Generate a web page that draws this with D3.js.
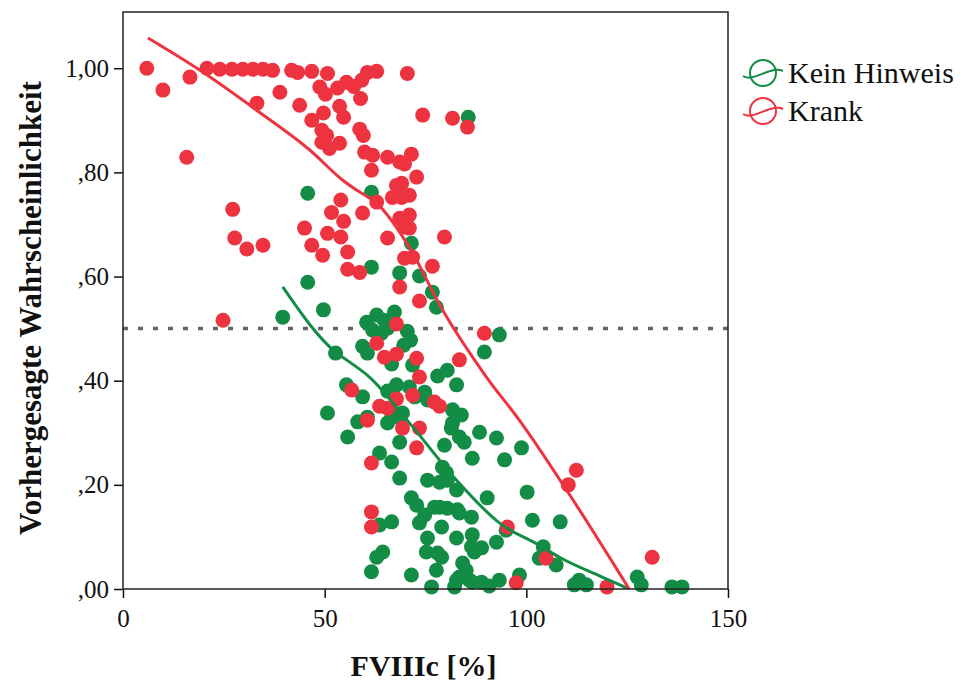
<!DOCTYPE html>
<html>
<head>
<meta charset="utf-8">
<script src="https://cdn.jsdelivr.net/npm/d3@7"></script>
<style>
  body { margin: 0; background: #fff; }
  svg { display: block; }
  text { font-family: "Liberation Serif", "Times New Roman", serif; fill: #111; }
</style>
</head>
<body>
<svg id="chart" width="963" height="690"></svg>
<script>
// FVIIIc [%] vs. predicted probability, per group
const kein = [
  [85.6, 0.906], [45.8, 0.760], [61.6, 0.762], [71.5, 0.664], [61.6, 0.618], [68.6, 0.607],
  [73.5, 0.601], [76.7, 0.570], [77.7, 0.541], [39.6, 0.522], [45.8, 0.589], [49.7, 0.536],
  [60.4, 0.512], [62.9, 0.526], [64.8, 0.516], [67.3, 0.532], [61.9, 0.497], [64.1, 0.491],
  [65.6, 0.501], [70.5, 0.495], [71.3, 0.478], [69.6, 0.468], [59.4, 0.466], [60.6, 0.453],
  [66.6, 0.432], [71.8, 0.430], [52.7, 0.453], [78.0, 0.409], [80.4, 0.420], [89.6, 0.455],
  [93.3, 0.488], [55.4, 0.392], [59.4, 0.369], [50.7, 0.338], [65.6, 0.380], [67.8, 0.392],
  [71.0, 0.388], [72.3, 0.369], [74.8, 0.378], [75.5, 0.363], [82.7, 0.392], [81.7, 0.344],
  [83.9, 0.334], [69.3, 0.338], [68.6, 0.328], [66.6, 0.338], [60.6, 0.330], [58.2, 0.321],
  [65.6, 0.319], [81.7, 0.319], [81.4, 0.309], [83.4, 0.292], [84.6, 0.282], [88.4, 0.301],
  [92.6, 0.290], [98.8, 0.271], [55.7, 0.292], [68.6, 0.282], [79.7, 0.276], [63.6, 0.261],
  [66.6, 0.244], [86.6, 0.251], [94.6, 0.248], [79.2, 0.234], [80.2, 0.223], [75.5, 0.209],
  [78.5, 0.205], [80.4, 0.209], [68.6, 0.213], [82.7, 0.190], [90.3, 0.175], [100.2, 0.186],
  [71.5, 0.175], [72.8, 0.161], [74.8, 0.142], [77.2, 0.157], [78.5, 0.157], [80.4, 0.155],
  [82.9, 0.152], [83.4, 0.146], [86.4, 0.138], [73.5, 0.127], [79.0, 0.119], [63.6, 0.123],
  [66.6, 0.129], [75.5, 0.098], [75.2, 0.071], [78.0, 0.069], [79.0, 0.061], [82.7, 0.098],
  [86.6, 0.104], [86.4, 0.081], [88.9, 0.079], [87.1, 0.071], [92.6, 0.090], [95.0, 0.113],
  [101.5, 0.132], [108.4, 0.129], [104.2, 0.081], [103.2, 0.059], [107.4, 0.046], [64.4, 0.071],
  [62.9, 0.061], [61.6, 0.033], [71.5, 0.027], [77.7, 0.036], [84.2, 0.050], [85.1, 0.036],
  [83.4, 0.023], [82.7, 0.017], [85.9, 0.017], [86.6, 0.013], [88.9, 0.013], [76.5, 0.004],
  [93.3, 0.017], [98.3, 0.027], [113.1, 0.017], [111.9, 0.008], [114.9, 0.008], [127.5, 0.023],
  [128.5, 0.008], [136.1, 0.004], [138.6, 0.004], [90.8, 0.006], [82.2, 0.004]
];

const krank = [
  [5.9, 1.000], [9.9, 0.958], [16.6, 0.983], [15.8, 0.829], [20.8, 1.000], [24.0, 0.998],
  [27.0, 0.998], [29.7, 0.998], [32.2, 0.998], [34.7, 0.998], [37.1, 0.996], [41.8, 0.996],
  [43.3, 0.992], [46.8, 0.994], [50.7, 0.990], [60.6, 0.992], [62.9, 0.994], [70.5, 0.990],
  [38.9, 0.954], [33.2, 0.933], [43.8, 0.929], [48.8, 0.964], [50.2, 0.950], [53.2, 0.962],
  [55.4, 0.973], [57.2, 0.965], [59.2, 0.977], [58.9, 0.942], [53.7, 0.927], [54.7, 0.906],
  [49.7, 0.914], [46.8, 0.900], [49.3, 0.881], [50.5, 0.871], [49.3, 0.858], [53.7, 0.856],
  [51.2, 0.846], [58.7, 0.883], [59.6, 0.871], [59.9, 0.839], [61.9, 0.833], [65.6, 0.829],
  [68.6, 0.820], [71.5, 0.835], [69.8, 0.816], [61.6, 0.804], [72.8, 0.791], [74.3, 0.910],
  [81.7, 0.904], [85.4, 0.887], [67.8, 0.775], [69.1, 0.779], [66.8, 0.752], [69.1, 0.752],
  [71.0, 0.756], [62.9, 0.743], [54.0, 0.747], [59.4, 0.722], [68.6, 0.712], [71.0, 0.718],
  [69.8, 0.695], [71.0, 0.693], [51.7, 0.723], [54.7, 0.706], [50.7, 0.683], [54.0, 0.676],
  [45.0, 0.693], [46.8, 0.660], [49.5, 0.641], [65.6, 0.674], [79.7, 0.676], [55.7, 0.647],
  [69.8, 0.635], [71.8, 0.637], [55.7, 0.614], [58.7, 0.608], [76.7, 0.620], [68.6, 0.580],
  [73.5, 0.553], [27.2, 0.729], [27.7, 0.674], [30.7, 0.653], [34.7, 0.660], [24.8, 0.516],
  [67.8, 0.509], [62.9, 0.472], [64.8, 0.445], [67.8, 0.451], [72.8, 0.443], [73.5, 0.407],
  [56.7, 0.382], [67.8, 0.365], [63.6, 0.351], [65.6, 0.347], [71.8, 0.372], [77.2, 0.359],
  [78.5, 0.351], [60.6, 0.324], [69.3, 0.309], [73.5, 0.309], [72.8, 0.271], [61.6, 0.242],
  [61.6, 0.148], [61.6, 0.119], [95.3, 0.119], [104.9, 0.059], [97.5, 0.012], [83.4, 0.440],
  [89.6, 0.491], [112.4, 0.228], [110.4, 0.200], [120.0, 0.004], [131.2, 0.061]
];

// fit lines
const keinFit = [
  [39.6, 0.580], [53.0, 0.453], [55.4, 0.440], [61.1, 0.407], [71.0, 0.319], [82.7, 0.209],
  [93.3, 0.127], [103.2, 0.084], [108.2, 0.061], [118.8, 0.023], [125.0, 0.002]
];
const krankFit = [
  [6.2, 1.058], [19.1, 0.996], [33.2, 0.919], [46.3, 0.843], [54.5, 0.785], [57.9, 0.766],
  [62.9, 0.741], [71.0, 0.656], [79.2, 0.536], [90.1, 0.407], [98.3, 0.324], [112.4, 0.161],
  [125.5, 0.000]
];

const yTicks = [0, 0.2, 0.4, 0.6, 0.8, 1.0];
const xTicks = [0, 50, 100, 150];
const groups = ['Kein Hinweis', 'Krank'];
const colors = ['#138c45', '#ee3340'];

const svg = d3.select('#chart');
const margin = { left: 123, right: 235, top: 12, bottom: 101 };
const width = 963 - margin.left - margin.right;
const height = 690 - margin.top - margin.bottom;

const x = d3.scaleLinear().domain([0, 150]).range([0, width]);
const y = d3.scaleLinear().domain([0, 1.108]).range([height, 0]);

const g = svg.append('g')
  .attr('transform', `translate(${margin.left},${margin.top})`);

// cut-off at 0,5
g.append('line')
  .attr('x1', 0).attr('x2', width)
  .attr('y1', y(0.5)).attr('y2', y(0.5))
  .attr('stroke', '#666')
  .attr('stroke-width', 3.5)
  .attr('stroke-dasharray', '5,10');

const fmt = (d) => d3.format('.2f')(d).replace(/^0\./, ',').replace('.', ',');

const xAxis = g.append('g')
  .attr('class', 'xAxis')
  .attr('transform', `translate(0,${height})`)
  .call(d3.axisBottom(x).tickValues(xTicks).tickSizeInner(9).tickSizeOuter(0).tickPadding(6));

const yAxis = g.append('g')
  .attr('class', 'yAxis')
  .call(d3.axisLeft(y).tickValues(yTicks).tickFormat(fmt).tickSizeInner(9).tickSizeOuter(0).tickPadding(5));

[xAxis, yAxis].forEach((a) => {
  a.select('.domain').remove();
  a.selectAll('.tick line').attr('stroke', '#111').attr('stroke-width', 1.5);
  a.selectAll('.tick text')
    .style('font-family', '"Liberation Serif", serif')
    .attr('font-size', 25)
    .attr('fill', '#111');
});
xAxis.selectAll('.tick text').attr('dy', '0.9em');

// points: green first, red on top
const series = [kein, krank];
series.forEach((data, i) => {
  g.append('g')
    .selectAll('circle')
    .data(data)
    .enter().append('circle')
    .attr('cx', (d) => x(d[0]))
    .attr('cy', (d) => y(d[1]))
    .attr('r', 7.5)
    .attr('fill', colors[i]);
});

const line = d3.line()
  .x((d) => x(d[0]))
  .y((d) => y(d[1]))
  .curve(d3.curveMonotoneX);

[keinFit, krankFit].forEach((data, i) => {
  g.append('path')
    .datum(data)
    .attr('d', line)
    .attr('fill', 'none')
    .attr('stroke', colors[i])
    .attr('stroke-width', 3);
});

// frame
g.append('rect')
  .attr('width', width).attr('height', height)
  .attr('fill', 'none')
  .attr('stroke', '#222')
  .attr('stroke-width', 1.5);

// axis titles
svg.append('text')
  .attr('x', margin.left + width / 2 - 2)
  .attr('y', 676)
  .attr('text-anchor', 'middle')
  .attr('font-size', 30)
  .attr('font-weight', 'bold')
  .text('FVIIIc [%]');

svg.append('text')
  .attr('transform', `translate(41,${margin.top + 296}) rotate(-90)`)
  .attr('text-anchor', 'middle')
  .attr('font-size', 31)
  .attr('font-weight', 'bold')
  .text('Vorhergesagte Wahrscheinlichkeit');

// legend
const legend = svg.append('g').attr('transform', 'translate(763,73)');
const items = legend.selectAll('g')
  .data(groups)
  .enter().append('g')
  .attr('transform', (d, i) => `translate(0,${i * 38})`);

items.append('circle')
  .attr('r', 13)
  .attr('fill', 'none')
  .attr('stroke', (d, i) => colors[i])
  .attr('stroke-width', 2);

items.append('path')
  .attr('d', 'M-20,3 C-10,10 8,-8 20,-2')
  .attr('fill', 'none')
  .attr('stroke', (d, i) => colors[i])
  .attr('stroke-width', 2);

items.append('text')
  .attr('x', 25)
  .attr('y', 10)
  .attr('font-size', 30)
  .text((d) => d);
</script>
</body>
</html>
